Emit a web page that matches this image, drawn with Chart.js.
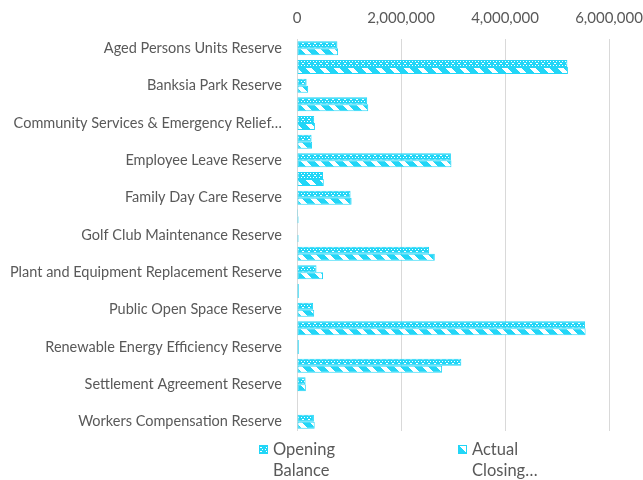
<!DOCTYPE html>
<html><head><meta charset="utf-8">
<script src="https://cdn.jsdelivr.net/npm/chart.js@4"></script>
<style>html,body{margin:0;padding:0;background:#fff}#wrap{width:643px;height:480px;position:relative}</style>
</head><body><div id="wrap"><canvas id="c" width="643" height="480"></canvas></div>
<script>
const categories = [
  'Aged Persons Units Reserve',
  'Asset Management Reserve',
  'Banksia Park Reserve',
  'Building Maintenance Reserve',
  'Community Services & Emergency Relief Reserve',
  'Election Reserve',
  'Employee Leave Reserve',
  'Environmental Reserve',
  'Family Day Care Reserve',
  'Furniture and Equipment Reserve',
  'Golf Club Maintenance Reserve',
  'Infrastructure Reserve',
  'Plant and Equipment Replacement Reserve',
  'Property Development Reserve',
  'Public Open Space Reserve',
  'Refuse Management Reserve',
  'Renewable Energy Efficiency Reserve',
  'Roads Reserve',
  'Settlement Agreement Reserve',
  'Unspent Grants Reserve',
  'Workers Compensation Reserve'
];
const openingBalance = [
  777000, 5200000, 185000, 1350000, 330000, 280000, 2960000, 500000, 1030000, 20000,
  0, 2540000, 375000, 35000, 310000, 5540000, 35000, 3160000, 165000, 0, 325000
];
const actualClosing = [
  790000, 5210000, 215000, 1370000, 345000, 290000, 2970000, 515000, 1050000, 30000,
  30000, 2650000, 500000, 35000, 330000, 5550000, 35000, 2790000, 170000, 0, 340000
];
const seriesNames = ['Opening Balance', 'Actual Closing Balance'];
const xTickValues = [0, 2000000, 4000000, 6000000];

const CYAN = '#22d6f7';
const TEXT = '#595959';
const FONT = 'Lato, "Liberation Sans", sans-serif';

function makePattern(draw, w, h) {
  const c = document.createElement('canvas');
  c.width = w; c.height = h;
  const g = c.getContext('2d');
  draw(g, w, h);
  return document.getElementById('c').getContext('2d').createPattern(c, 'repeat');
}
const openingPattern = makePattern((g, w, h) => {
  g.fillStyle = CYAN; g.fillRect(0, 0, w, h);
  g.fillStyle = '#ffffff';
  g.fillRect(1, 1, 1, 1); g.fillRect(4, 1, 1, 1);
  g.fillRect(2, 3, 2, 1);
}, 6, 4);
const closingPattern = makePattern((g, w, h) => {
  g.fillStyle = CYAN; g.fillRect(0, 0, w, h);
  g.fillStyle = '#ffffff';
  for (let y = 0; y < h; y++) for (let x = 0; x < w; x++) {
    if (((x - y + 2 * w) % w) < 6) g.fillRect(x, y, 1, 1);
  }
}, 14, 14);

const measureCtx = document.createElement('canvas').getContext('2d');
function truncate(text, font, maxW) {
  measureCtx.font = font;
  if (measureCtx.measureText(text).width <= maxW) return text;
  const words = text.split(' ');
  while (words.length > 1 && measureCtx.measureText(words.join(' ') + '…').width > maxW) words.pop();
  return words.join(' ') + '…';
}
function wrap2(text, font, maxW) {
  measureCtx.font = font;
  const words = text.split(' ');
  const lines = [];
  let cur = '';
  for (let i = 0; i < words.length; i++) {
    const t = cur ? cur + ' ' + words[i] : words[i];
    if (cur && measureCtx.measureText(t).width > maxW) {
      lines.push(cur); cur = words[i];
      if (lines.length === 2) break;
    } else cur = t;
  }
  if (lines.length < 2) { lines.push(cur); return lines; }
  lines[1] = lines[1] + '…';
  return lines;
}

const legendPlugin = {
  id: 'customLegend',
  afterDraw(chart) {
    const ctx = chart.ctx;
    const font = '16.5px ' + FONT;
    const items = [
      { x: 259, pattern: openingPattern, label: seriesNames[0] },
      { x: 458, pattern: closingPattern, label: seriesNames[1] }
    ];
    ctx.save();
    items.forEach(it => {
      ctx.fillStyle = it.pattern;
      ctx.fillRect(it.x, 445, 9, 9);
      ctx.strokeStyle = CYAN; ctx.lineWidth = 1;
      ctx.strokeRect(it.x + 0.5, 445.5, 8, 8);
      const lines = wrap2(it.label, font, 72);
      ctx.font = font; ctx.fillStyle = TEXT;
      ctx.textAlign = 'left'; ctx.textBaseline = 'middle';
      lines.forEach((ln, k) => ctx.fillText(ln, it.x + 14, 450 + k * 20.5));
    });
    ctx.restore();
  }
};

const labelFont = '14.5px ' + FONT;

new Chart(document.getElementById('c'), {
  type: 'bar',
  data: {
    labels: categories,
    datasets: [
      { label: seriesNames[0], data: openingBalance, backgroundColor: openingPattern, borderColor: CYAN, borderWidth: 1, borderSkipped: false, categoryPercentage: 0.75, barPercentage: 1 },
      { label: seriesNames[1], data: actualClosing, backgroundColor: closingPattern, borderColor: CYAN, borderWidth: 1, borderSkipped: false, categoryPercentage: 0.75, barPercentage: 1 }
    ]
  },
  options: {
    indexAxis: 'y',
    responsive: false,
    animation: false,
    devicePixelRatio: 1,
    layout: { padding: { left: 0, right: 34, top: 0, bottom: 49 } },
    plugins: { legend: { display: false }, tooltip: { enabled: false } },
    scales: {
      x: {
        position: 'top',
        min: 0, max: 6000000,
        afterBuildTicks: (s) => { s.ticks = xTickValues.map(v => ({ value: v })); },
        afterFit: (s) => { s.height = 39; s.paddingLeft = 0; s.paddingRight = 0; },
        ticks: {
          color: TEXT, font: { family: FONT, size: 15 }, padding: 12,
          callback: (v) => Number(v).toLocaleString('en-US')
        },
        grid: { color: '#d9d9d9', drawTicks: false, lineWidth: 1 },
        border: { display: false }
      },
      y: {
        afterFit: (s) => { s.width = 297; s.paddingTop = 0; s.paddingBottom = 0; },
        ticks: {
          autoSkip: false, color: TEXT, font: { family: FONT, size: 14.5 }, padding: 15,
          callback: (v, i) => i % 2 === 0 ? truncate(categories[i], labelFont, 282) : ''
        },
        grid: { display: false, drawTicks: false },
        border: { display: false }
      }
    }
  },
  plugins: [legendPlugin]
});
</script>
</body></html>
